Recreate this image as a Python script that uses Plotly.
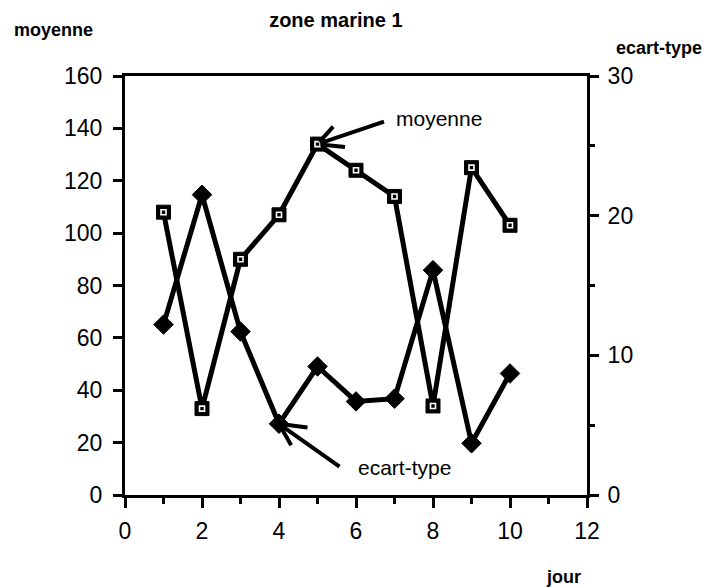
import plotly.graph_objects as go

# Daily mean and standard deviation, zone marine 1
jour = [1, 2, 3, 4, 5, 6, 7, 8, 9, 10]
moyenne = [108, 33, 90, 107, 134, 124, 114, 34, 125, 103]
ecart_type = [12.2, 21.5, 11.7, 5.1, 9.2, 6.7, 6.9, 16.1, 3.7, 8.7]

x_ticks = [0, 2, 4, 6, 8, 10, 12]
y_ticks = [0, 20, 40, 60, 80, 100, 120, 140, 160]
y2_ticks = [0, 10, 20, 30]

FONT = "Liberation Sans, Arial, sans-serif"
INK = "#000000"

fig = go.Figure()

# mean: line with black square markers, small white square inside
fig.add_trace(go.Scatter(
    x=jour, y=moyenne, mode="lines+markers", name="moyenne",
    line=dict(color=INK, width=5),
    marker=dict(symbol="square", size=14, color=INK, line=dict(color=INK, width=1)),
    yaxis="y", showlegend=False, hoverinfo="x+y"))
fig.add_trace(go.Scatter(
    x=jour, y=moyenne, mode="markers",
    marker=dict(symbol="square-open", size=5, color="white", line=dict(color="white", width=1.6)),
    yaxis="y", showlegend=False, hoverinfo="skip"))

# standard deviation: line with black diamonds, right axis
fig.add_trace(go.Scatter(
    x=jour, y=ecart_type, mode="lines+markers", name="ecart-type",
    line=dict(color=INK, width=5),
    marker=dict(symbol="diamond", size=15, color=INK, line=dict(color=INK, width=1)),
    yaxis="y2", showlegend=False, hoverinfo="x+y"))

annotations = []

def arrow(xv, yv, yref, dx, dy, width=4):
    annotations.append(dict(
        x=xv, y=yv, xref="x", yref=yref, ax=dx, ay=dy, axref="pixel", ayref="pixel",
        text="", showarrow=True, arrowhead=0, arrowwidth=width, arrowcolor=INK, standoff=3))

# pointer to the mean peak (day 5)
i_m = 4
arrow(jour[i_m], moyenne[i_m], "y", 68, -23)
arrow(jour[i_m], moyenne[i_m], "y", 17, -19)
arrow(jour[i_m], moyenne[i_m], "y", 29, 3)
annotations.append(dict(
    x=jour[i_m], y=moyenne[i_m], xref="x", yref="y", text="moyenne",
    showarrow=False, xshift=121, yshift=26,
    font=dict(family=FONT, size=21, color=INK)))

# pointer to the standard deviation at day 4
i_e = 3
arrow(jour[i_e], ecart_type[i_e], "y2", 62, 44)
arrow(jour[i_e], ecart_type[i_e], "y2", 30, 4)
arrow(jour[i_e], ecart_type[i_e], "y2", 13, 23)
annotations.append(dict(
    x=jour[i_e], y=ecart_type[i_e], xref="x", yref="y2", text="ecart-type",
    showarrow=False, xshift=125, yshift=-44,
    font=dict(family=FONT, size=21, color=INK)))

# axis captions
cap_font = dict(family=FONT, size=18, color=INK)
annotations.append(dict(x=-0.154, y=1.110, xref="paper", yref="paper", text="<b>moyenne</b>",
                        xanchor="center", yanchor="middle", showarrow=False, font=cap_font))
annotations.append(dict(x=1.156, y=1.067, xref="paper", yref="paper", text="<b>ecart-type</b>",
                        xanchor="center", yanchor="middle", showarrow=False, font=cap_font))
annotations.append(dict(x=0.950, y=-0.196, xref="paper", yref="paper", text="<b>jour</b>",
                        xanchor="center", yanchor="middle", showarrow=False, font=cap_font))

tick_font = dict(family=FONT, size=23, color=INK)

fig.update_layout(
    width=710, height=587,
    margin=dict(l=125, r=123, t=76, b=92),
    paper_bgcolor="white", plot_bgcolor="white",
    title=dict(text="<b>zone marine 1</b>", x=0.473, y=0.966, xanchor="center", yanchor="middle",
               font=dict(family=FONT, size=20, color=INK)),
    xaxis=dict(range=[0, 12], tickvals=x_ticks, ticktext=[str(v) for v in x_ticks],
               showgrid=False, zeroline=False, showline=True, linewidth=3, linecolor=INK,
               mirror=True, ticks="outside", ticklen=10, tickwidth=3, tickcolor=INK,
               tickfont=tick_font, ticklabelstandoff=3,
               minor=dict(dtick=1, tick0=0, ticks="outside", ticklen=6, tickwidth=3, tickcolor=INK)),
    yaxis=dict(range=[0, 160], tickvals=y_ticks, showgrid=False, zeroline=False,
               showline=True, linewidth=3, linecolor=INK, ticks="outside", ticklen=9,
               tickwidth=3, tickcolor=INK, tickfont=tick_font, ticklabelstandoff=6),
    yaxis2=dict(range=[0, 30], tickvals=y2_ticks, overlaying="y", side="right",
                showgrid=False, zeroline=False, showline=True, linewidth=3, linecolor=INK,
                ticks="outside", ticklen=9, tickwidth=3, tickcolor=INK, tickfont=tick_font,
                ticklabelstandoff=4,
                minor=dict(dtick=5, tick0=0, ticks="outside", ticklen=5, tickwidth=3, tickcolor=INK)),
    annotations=annotations,
)

fig.write_html("out.html")
